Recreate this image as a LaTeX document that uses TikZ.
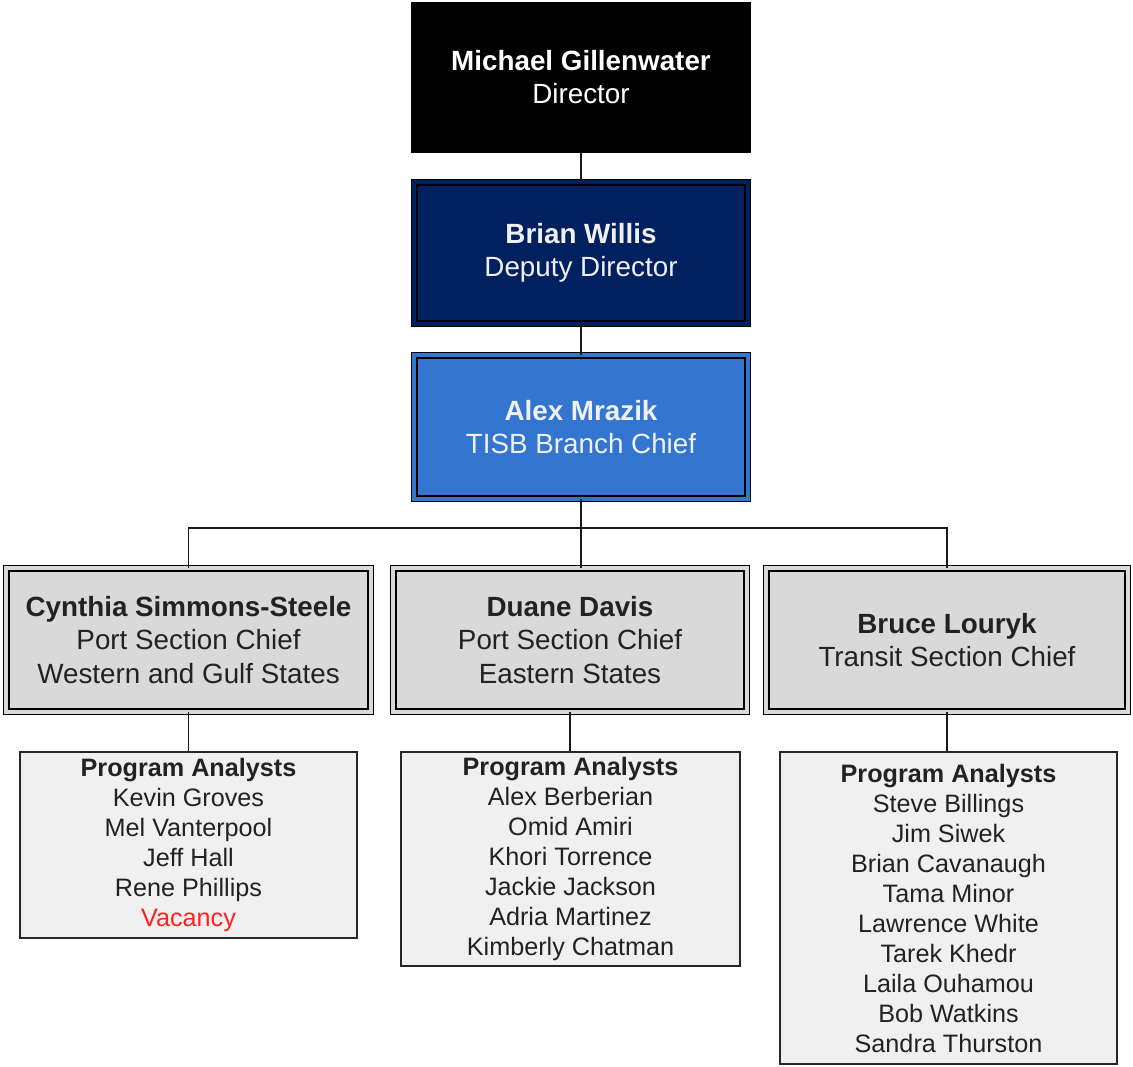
\documentclass[tikz,border=0pt]{standalone}
\usepackage{fontspec}
\setmainfont{Liberation Sans}
\usepackage{xcolor}
\definecolor{navybox}{RGB}{0,32,96}
\definecolor{tisbblue}{RGB}{51,117,207}
\definecolor{secgray}{RGB}{217,217,217}
\definecolor{listgray}{RGB}{240,240,240}
\definecolor{vacred}{RGB}{255,32,32}
\definecolor{inkgray}{RGB}{34,34,34}

\begin{document}
\begin{tikzpicture}[x=0.5pt,y=-0.5pt,
    bigfont/.style={font=\fontsize{13.9}{16.7}\selectfont},
    smallfont/.style={font=\fontsize{12.6}{15}\selectfont},
    dbl/.style={draw=black,line width=0.65pt,double=#1,double distance=2pt,
      fill=#1,align=center,inner sep=0pt,bigfont},
    topbox/.style={fill=black,text=white,minimum width=170pt,
      minimum height=75.5pt,align=center,inner sep=0pt,bigfont},
    headbox/.style={dbl=#1,text=white!94!black,minimum width=166.7pt},
    secbox/.style={dbl=secgray,text=inkgray,minimum height=71.7pt},
    listbox/.style={draw=black!85,line width=0.75pt,fill=listgray,
      text=inkgray,minimum width=168.5pt,align=center,inner sep=0pt,smallfont},
    link/.style={draw=black!90,line width=0.75pt}]

    \useasboundingbox (0,0) rectangle (1133,1066);

    % top of the chart
    \node[topbox] (director) at (581,77)
      {\textbf{Michael Gillenwater}\\Director};
    \node[headbox=navybox,minimum height=70.7pt] (deputy) at (581,253)
      {\textbf{Brian Willis}\\Deputy Director};
    \node[headbox=tisbblue,minimum height=71.7pt] (branch) at (581,427)
      {\textbf{Alex Mrazik}\\TISB Branch Chief};

    % section chiefs
    \node[secbox,minimum width=182.2pt] (cynthia) at (188.5,640)
      {\textbf{Cynthia Simmons-Steele}\\Port Section Chief\\Western and Gulf States};
    \node[secbox,minimum width=176.7pt] (duane) at (570,640)
      {\textbf{Duane Davis}\\Port Section Chief\\Eastern States};
    \node[secbox,minimum width=180.7pt] (bruce) at (947,640)
      {\textbf{Bruce Louryk}\\Transit Section Chief};

    % analysts
    \node[listbox,minimum height=93pt] (westlist) at (188.5,845)
      {\textbf{Program Analysts}\\Kevin Groves\\Mel Vanterpool\\Jeff Hall\\
       Rene Phillips\\\textcolor{vacred}{Vacancy}};
    \node[listbox,minimum width=169.5pt,minimum height=107pt] (eastlist) at (570.5,859)
      {\textbf{Program Analysts}\\Alex Berberian\\Omid Amiri\\Khori Torrence\\
       Jackie Jackson\\Adria Martinez\\Kimberly Chatman};
    \node[listbox,minimum height=156pt] (transitlist) at (948.5,908)
      {\textbf{Program Analysts}\\Steve Billings\\Jim Siwek\\Brian Cavanaugh\\
       Tama Minor\\Lawrence White\\Tarek Khedr\\Laila Ouhamou\\Bob Watkins\\
       Sandra Thurston};

    \coordinate (bus) at (581,528);

    \draw[link] (director.south) -- (deputy.north);
    \draw[link] (deputy.south) -- (branch.north);
    \draw[link] (branch.south) -- (branch.south |- duane.north);
    \draw[link] (bus) -| (cynthia.north);
    \draw[link] (bus) -| (bruce.north);
    \foreach \s/\l in {cynthia/westlist,duane/eastlist,bruce/transitlist}
      \draw[link] (\s.south) -- (\s.south |- \l.north);

  \end{tikzpicture}
\end{document}
